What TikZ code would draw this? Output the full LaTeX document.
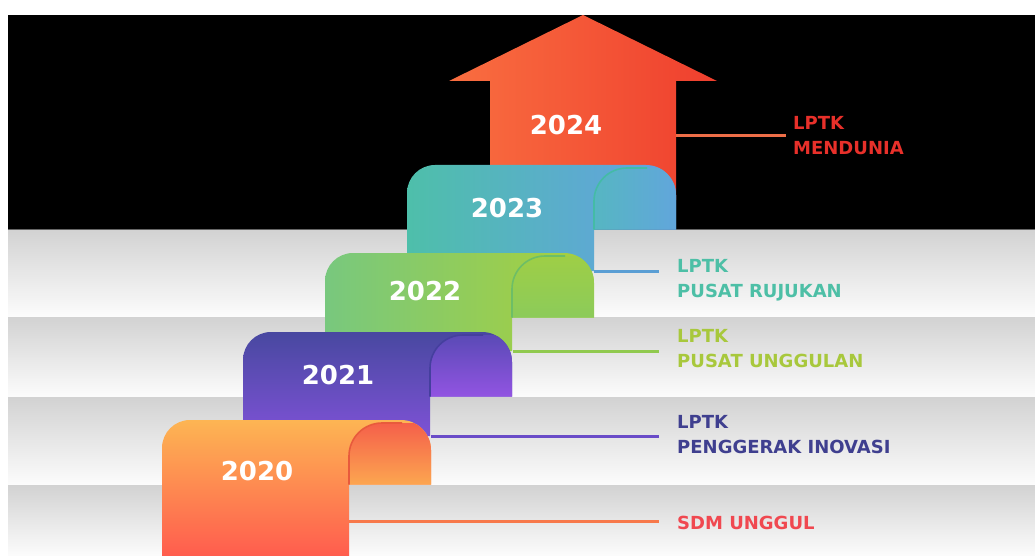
\documentclass[tikz,border=0pt]{standalone}
\usepackage{fontspec}
\setmainfont{DejaVu Sans}
\definecolor{gTop}{HTML}{D2D2D2}
\definecolor{gMid}{HTML}{F0F0F0}
\definecolor{gBot}{HTML}{FCFCFC}
\definecolor{arL}{HTML}{F96E40}
\definecolor{arR}{HTML}{EF3F2E}
\definecolor{aTop}{HTML}{FDB553}
\definecolor{aBot}{HTML}{FF5A4E}
\definecolor{aCTop}{HTML}{F5604A}
\definecolor{aCBot}{HTML}{FCA650}
\definecolor{aEdge}{HTML}{E85A3C}
\definecolor{bTop}{HTML}{4848A0}
\definecolor{bBot}{HTML}{7E52D6}
\definecolor{bCTop}{HTML}{5A4AB6}
\definecolor{bCBot}{HTML}{9254E2}
\definecolor{bEdge}{HTML}{453F9E}
\definecolor{cL}{HTML}{78C87E}
\definecolor{cR}{HTML}{A9D03A}
\definecolor{cCTop}{HTML}{9ECE46}
\definecolor{cCBot}{HTML}{8CCB5A}
\definecolor{cEdge}{HTML}{6DBE66}
\definecolor{dL}{HTML}{4EBFAA}
\definecolor{dR}{HTML}{64A0E4}
\definecolor{dCL}{HTML}{56B6C2}
\definecolor{dCR}{HTML}{64A2E2}
\definecolor{dEdge}{HTML}{44BBA6}
\definecolor{tMend}{HTML}{E8302A}
\definecolor{tRuj}{HTML}{4DBFA6}
\definecolor{tUng}{HTML}{A8C83C}
\definecolor{tPeng}{HTML}{3F3F8F}
\definecolor{tSdm}{HTML}{F04850}
\definecolor{l24}{HTML}{EE6E48}
\definecolor{l23}{HTML}{5A9ED4}
\definecolor{l22}{HTML}{90C94E}
\definecolor{l21}{HTML}{6A4CC8}
\definecolor{l20}{HTML}{F7784A}
\tikzset{
  yearlab/.style={text=white, font=\fontsize{26}{30}\selectfont\bfseries, inner sep=0pt},
  goallab/.style={font=\fontsize{18}{25}\selectfont\bfseries, align=left, inner sep=0pt, anchor=north west},
  link/.style={line width=3pt},
  stripe/.style={top color=gTop, middle color=gMid, bottom color=gBot}
}
% #1 x, #2 y, #3 body length, #4 body shading, #5 curl shading, #6 edge colour
\newcommand\myscroll[6]{%
  \begin{scope}[shift={(#1,#2)}]
    \path[#4] (0,#3) -- (0,28) arc[start angle=180,end angle=270,radius=28]
      -- (239,0) arc[start angle=270,end angle=360,radius=30]
      -- (269,64.5) -- (187,64.5) -- (187,#3) -- cycle;
    \begin{scope}
      \clip (0,#3) -- (0,28) arc[start angle=180,end angle=270,radius=28]
        -- (239,0) arc[start angle=270,end angle=360,radius=30]
        -- (269,64.5) -- (187,64.5) -- (187,#3) -- cycle;
      \path[#5] (187,64.5) -- (187,36) arc[start angle=180,end angle=270,radius=33]
        -- (290,3) -- (290,64.5) -- cycle;
      \draw[#6, line width=1.6pt] (187,64.5) -- (187,36)
        arc[start angle=180,end angle=270,radius=33] -- (240,3);
    \end{scope}
  \end{scope}}
\begin{document}
\begin{tikzpicture}[x=1pt,y=-1pt]
\useasboundingbox (0,0) rectangle (1035,556);
\fill[white] (0,0) rectangle (1035,556);
% background
\fill[black] (8,15) rectangle (1035,229);
\path[stripe] (8,229) rectangle (1035,317);
\path[stripe] (8,317) rectangle (1035,397);
\path[stripe] (8,397) rectangle (1035,485);
\path[stripe] (8,485) rectangle (1035,556);
\draw[black!60, line width=0.8pt] (8,229) -- (1035,229);
% arrow 2024
\path[left color=arL, right color=arR] (490,200) -- (490,81) -- (449,81) -- (583,15)
  -- (717,81) -- (676,81) -- (676,200) -- cycle;
\node[yearlab] (y2024) at (566,125) {2024};
% scrolls
\myscroll{407}{165}{106}{left color=dL, right color=dR}{left color=dCL, right color=dCR}{dEdge}
\node[yearlab] (y2023) at (507,208) {2023};
\myscroll{325}{253}{98}{left color=cL, right color=cR}{top color=cCTop, bottom color=cCBot}{cEdge}
\node[yearlab] (y2022) at (425,291) {2022};
\myscroll{243}{332}{104}{top color=bTop, bottom color=bBot}{top color=bCTop, bottom color=bCBot}{bEdge}
\node[yearlab] (y2021) at (338,375) {2021};
\myscroll{162}{420}{140}{top color=aTop, bottom color=aBot}{top color=aCTop, bottom color=aCBot}{aEdge}
\node[yearlab] (y2020) at (257,471) {2020};
% labels
\node[goallab, text=tMend] (l2024) at (793,116.5) {LPTK\\MENDUNIA};
\node[goallab, text=tRuj] (l2023) at (677,259.5) {LPTK\\PUSAT RUJUKAN};
\node[goallab, text=tUng] (l2022) at (677,329.5) {LPTK\\PUSAT UNGGULAN};
\node[goallab, text=tPeng] (l2021) at (677,415.5) {LPTK\\PENGGERAK INOVASI};
\node[goallab, text=tSdm] (l2020) at (677,515.5) {SDM UNGGUL};
% connectors
\coordinate (s2024) at (676,136); \coordinate (e2024) at (786,136);
\coordinate (s2023) at (594,271); \coordinate (e2023) at (659,271);
\coordinate (s2022) at (513,351); \coordinate (e2022) at (659,351);
\coordinate (s2021) at (431,436); \coordinate (e2021) at (659,436);
\coordinate (s2020) at (349,521); \coordinate (e2020) at (659,521);
\draw[link, l24] (s2024) -- (e2024);
\draw[link, l23] (s2023) -- (e2023);
\draw[link, l22] (s2022) -- (e2022);
\draw[link, l21] (s2021) -- (e2021);
\draw[link, l20] (s2020) -- (e2020);
\end{tikzpicture}
\end{document}
